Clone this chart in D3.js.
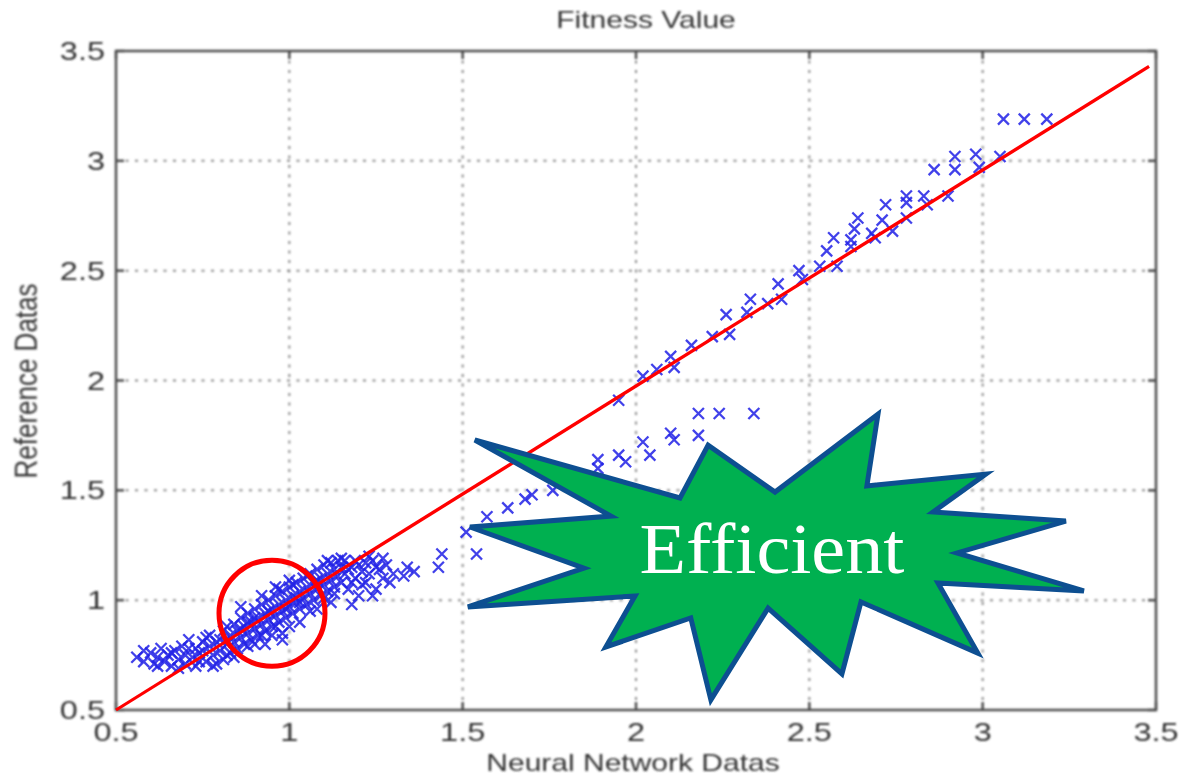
<!DOCTYPE html>
<html>
<head>
<meta charset="utf-8">
<script src="https://cdn.jsdelivr.net/npm/d3@7"></script>
<style>
  body { margin: 0; background: #fff; }
  svg { display: block; }
</style>
</head>
<body>
<svg id="chart" width="1184" height="777"></svg>
<script>
const xTicks = [0.5, 1, 1.5, 2, 2.5, 3, 3.5];
const yTicks = [0.5, 1, 1.5, 2, 2.5, 3, 3.5];

// [neural network, reference] pairs
const points = [
  [0.56,0.74],[0.58,0.72],[0.60,0.76],[0.61,0.71],[0.62,0.74],[0.63,0.78],[0.64,0.72],[0.65,0.75],
  [0.66,0.70],[0.67,0.77],[0.68,0.73],[0.69,0.79],[0.70,0.71],[0.70,0.75],[0.71,0.82],[0.72,0.74],
  [0.73,0.70],[0.73,0.78],[0.74,0.76],[0.75,0.81],[0.76,0.72],[0.77,0.79],[0.77,0.84],[0.78,0.75],
  [0.79,0.71],[0.79,0.81],[0.80,0.77],[0.81,0.86],[0.81,0.73],[0.82,0.80],[0.83,0.84],[0.83,0.76],
  [0.84,0.89],[0.84,0.81],[0.85,0.78],[0.85,0.86],[0.86,0.92],[0.86,0.83],[0.87,0.80],[0.87,0.88],
  [0.88,0.85],[0.88,0.94],[0.89,0.82],[0.89,0.90],[0.90,0.87],[0.90,0.96],[0.91,0.84],[0.91,0.92],
  [0.92,0.89],[0.92,0.98],[0.93,0.86],[0.93,0.94],[0.94,0.91],[0.94,1.00],[0.95,0.88],[0.95,0.96],
  [0.96,0.93],[0.96,1.02],[0.97,0.90],[0.97,0.98],[0.98,0.95],[0.98,1.04],[0.99,0.92],[0.99,1.00],
  [1.00,0.97],[1.00,1.06],[1.01,0.94],[1.01,1.02],[1.02,0.99],[1.02,1.08],[1.03,0.96],[1.03,1.04],
  [1.04,1.01],[1.04,1.10],[1.05,0.98],[1.05,1.06],[1.06,1.03],[1.06,1.12],[1.07,1.00],[1.07,1.08],
  [1.08,1.05],[1.08,1.14],[1.09,1.02],[1.09,1.10],[1.10,1.07],[1.10,1.16],[1.11,1.04],[1.11,1.12],
  [1.12,1.09],[1.12,1.17],[1.13,1.06],[1.13,1.14],[1.14,1.11],[1.14,1.18],[1.15,1.08],[1.15,1.15],
  [1.16,1.12],[1.16,1.18],[1.17,1.05],[1.18,1.15],[1.19,1.10],[1.19,1.18],[1.20,1.02],[1.21,1.13],
  [1.22,1.17],[1.22,1.08],[1.23,1.12],[1.24,1.18],[1.25,1.05],[1.26,1.14],[1.27,1.10],[1.28,1.16],
  [1.30,1.12],[0.90,0.80],[0.95,0.84],[1.00,0.88],[0.98,0.85],[1.03,0.90],[1.08,0.96],[0.82,0.88],
  [0.86,0.97],[0.92,1.02],[0.96,1.06],[1.00,1.09],[0.66,0.76],[0.75,0.77],[0.88,0.90],[1.02,1.01],
  [0.58,0.77],[0.62,0.70],[0.68,0.69],[0.71,0.78],[0.74,0.72],[0.76,0.83],[0.78,0.70],[0.80,0.82],
  [0.82,0.75],[0.84,0.74],[0.86,0.87],[0.88,0.79],[0.90,0.92],[0.92,0.84],[0.94,0.95],[0.96,0.88],
  [0.97,1.05],[0.99,0.96],[1.01,1.07],[1.03,0.99],[1.05,1.11],[1.06,0.95],[1.08,1.09],[1.10,1.01],
  [1.11,1.18],[1.13,1.03],[1.15,1.19],[1.17,1.14],[1.18,1.08],[1.20,1.16],[1.21,1.07],[1.23,1.20],
  [1.25,1.15],[1.27,1.19],[1.29,1.08],[1.18,0.98],[1.24,1.02],[1.12,0.99],[0.93,0.80],[0.98,0.82],
  [1.33,1.11],[1.34,1.15],[1.36,1.13],[1.43,1.15],[1.44,1.21],[1.54,1.21],[1.51,1.31],[1.57,1.38],
  [1.63,1.42],[1.68,1.46],[1.70,1.48],[1.76,1.50],[1.89,1.60],[1.89,1.64],[1.95,1.66],[1.97,1.63],
  [2.04,1.66],[2.02,1.72],[2.10,1.76],[2.11,1.73],[2.18,1.75],[2.18,1.85],[2.24,1.85],[2.34,1.85],
  [1.95,1.91],[2.02,2.02],[2.06,2.05],[2.10,2.11],[2.11,2.06],[2.16,2.16],[2.22,2.20],[2.27,2.21],
  [2.26,2.30],[2.32,2.31],[2.33,2.37],[2.38,2.35],[2.42,2.37],[2.41,2.44],[2.48,2.46],[2.47,2.50],
  [2.53,2.52],[2.58,2.52],[2.55,2.59],[2.62,2.61],[2.57,2.65],[2.62,2.64],[2.69,2.65],[2.63,2.69],
  [2.68,2.67],[2.74,2.68],[2.64,2.74],[2.71,2.73],[2.78,2.74],[2.72,2.80],[2.78,2.81],[2.84,2.80],
  [2.78,2.84],[2.83,2.84],[2.90,2.84],[2.86,2.96],[2.92,2.96],[2.99,2.97],[2.92,3.02],[2.98,3.03],
  [3.05,3.02],[3.06,3.19],[3.12,3.19],[3.185,3.19]
];

const refLine = [[0.5, 0.5], [3.48, 3.43]];
const circleCenter = [0.95, 0.94];

// starburst outline, in data units
const starShape = [
  [1.535,1.729],[2.127,1.465],[2.208,1.706],[2.401,1.492],[2.698,1.847],[2.666,1.520],
  [3.009,1.574],[2.857,1.401],[3.240,1.360],[2.926,1.215],[3.292,1.042],[2.871,1.078],
  [2.986,0.759],[2.649,0.992],[2.594,0.664],[2.381,0.964],[2.216,0.546],[2.158,0.919],
  [1.913,0.787],[1.997,1.019],[1.515,0.969],[1.850,1.146],[1.521,1.333],[1.928,1.383]
];
const starLabel = { text: "Efficient", x: 2.392, y: 1.124 };

const svg = d3.select("#chart");
const mLeft = 116, mRight = 1156, mTop = 51, mBottom = 710;

const x = d3.scaleLinear().domain([0.5, 3.5]).range([mLeft, mRight]);
const y = d3.scaleLinear().domain([0.5, 3.5]).range([mBottom, mTop]);

const defs = svg.append("defs");
defs.append("filter").attr("id", "soft")
  .append("feGaussianBlur").attr("stdDeviation", 0.8);
defs.append("filter").attr("id", "softer")
  .append("feGaussianBlur").attr("stdDeviation", 0.5);

const plot = svg.append("g").attr("filter", "url(#soft)");

// dotted grid
plot.append("g")
  .selectAll("line")
  .data(xTicks.slice(1, -1))
  .join("line")
  .attr("x1", d => x(d)).attr("x2", d => x(d))
  .attr("y1", mTop).attr("y2", mBottom)
  .attr("stroke", "#8a8a8a").attr("stroke-width", 2)
  .attr("stroke-dasharray", "3,6.5");

plot.append("g")
  .selectAll("line")
  .data(yTicks.slice(1, -1))
  .join("line")
  .attr("y1", d => y(d)).attr("y2", d => y(d))
  .attr("x1", mLeft).attr("x2", mRight)
  .attr("stroke", "#8a8a8a").attr("stroke-width", 2)
  .attr("stroke-dasharray", "3,6.5");

// box + inward ticks
const axisCol = "#4d4d4d";
plot.append("rect")
  .attr("x", mLeft).attr("y", mTop)
  .attr("width", mRight - mLeft).attr("height", mBottom - mTop)
  .attr("fill", "none").attr("stroke", axisCol).attr("stroke-width", 2.5);

const tickLen = 8;
xTicks.forEach(t => {
  plot.append("line").attr("x1", x(t)).attr("x2", x(t)).attr("y1", mBottom).attr("y2", mBottom - tickLen)
    .attr("stroke", axisCol).attr("stroke-width", 2.5);
  plot.append("line").attr("x1", x(t)).attr("x2", x(t)).attr("y1", mTop).attr("y2", mTop + tickLen)
    .attr("stroke", axisCol).attr("stroke-width", 2.5);
});
yTicks.forEach(t => {
  plot.append("line").attr("y1", y(t)).attr("y2", y(t)).attr("x1", mLeft).attr("x2", mLeft + tickLen)
    .attr("stroke", axisCol).attr("stroke-width", 2.5);
  plot.append("line").attr("y1", y(t)).attr("y2", y(t)).attr("x1", mRight).attr("x2", mRight - tickLen)
    .attr("stroke", axisCol).attr("stroke-width", 2.5);
});

const font = "'Liberation Sans', Arial, sans-serif";
const txtCol = "#333";

plot.append("g")
  .selectAll("text")
  .data(xTicks)
  .join("text")
  .attr("transform", d => `translate(${x(d)},${741}) scale(1.25,1)`)
  .attr("text-anchor", "middle")
  .attr("font-family", font).attr("font-size", 26)
  .attr("fill", txtCol)
  .text(d => d3.format("~g")(d));

plot.append("g")
  .selectAll("text")
  .data(yTicks)
  .join("text")
  .attr("transform", d => `translate(${105},${y(d) + 9}) scale(1.25,1)`)
  .attr("text-anchor", "end")
  .attr("font-family", font).attr("font-size", 26)
  .attr("fill", txtCol)
  .text(d => d3.format("~g")(d));

plot.append("text")
  .attr("transform", `translate(${(mLeft + mRight) / 2 + 10},28) scale(1.25,1)`)
  .attr("text-anchor", "middle")
  .attr("font-family", font).attr("font-size", 24)
  .attr("fill", txtCol)
  .text("Fitness Value");

plot.append("text")
  .attr("transform", `translate(${(mLeft + mRight) / 2 - 3},771) scale(1.25,1)`)
  .attr("text-anchor", "middle")
  .attr("font-family", font).attr("font-size", 24)
  .attr("fill", txtCol)
  .text("Neural Network Datas");

plot.append("text")
  .attr("transform", `translate(37,381) scale(1.2,1) rotate(-90)`)
  .attr("text-anchor", "middle")
  .attr("font-family", font).attr("font-size", 26)
  .attr("fill", txtCol)
  .text("Reference Datas");

// x markers
const s = 5.5;
svg.append("g")
  .attr("filter", "url(#softer)")
  .selectAll("path")
  .data(points)
  .join("path")
  .attr("transform", d => `translate(${x(d[0])},${y(d[1])})`)
  .attr("d", `M${-s},${-s}L${s},${s}M${-s},${s}L${s},${-s}`)
  .attr("stroke", "#2222e6").attr("stroke-width", 2.3)
  .attr("stroke-opacity", 0.85).attr("fill", "none");

// red reference line
svg.append("line")
  .attr("x1", x(refLine[0][0])).attr("y1", y(refLine[0][1]))
  .attr("x2", x(refLine[1][0])).attr("y2", y(refLine[1][1]))
  .attr("stroke", "#ff0000").attr("stroke-width", 3.2);

svg.append("circle")
  .attr("cx", x(circleCenter[0])).attr("cy", y(circleCenter[1]))
  .attr("r", 53)
  .attr("fill", "none").attr("stroke", "#ff0000").attr("stroke-width", 5);

// starburst callout
const line = d3.line().x(d => x(d[0])).y(d => y(d[1])).curve(d3.curveLinearClosed);
svg.append("path")
  .attr("d", line(starShape))
  .attr("fill", "#00b050")
  .attr("stroke", "#0d4f91").attr("stroke-width", 5)
  .attr("stroke-linejoin", "miter");

svg.append("text")
  .attr("x", x(starLabel.x)).attr("y", y(starLabel.y))
  .attr("text-anchor", "middle")
  .attr("font-family", "'Liberation Serif', 'DejaVu Serif', serif")
  .attr("font-size", 72)
  .attr("textLength", 265).attr("lengthAdjust", "spacingAndGlyphs")
  .attr("fill", "#ffffff")
  .text(starLabel.text);
</script>
</body>
</html>
